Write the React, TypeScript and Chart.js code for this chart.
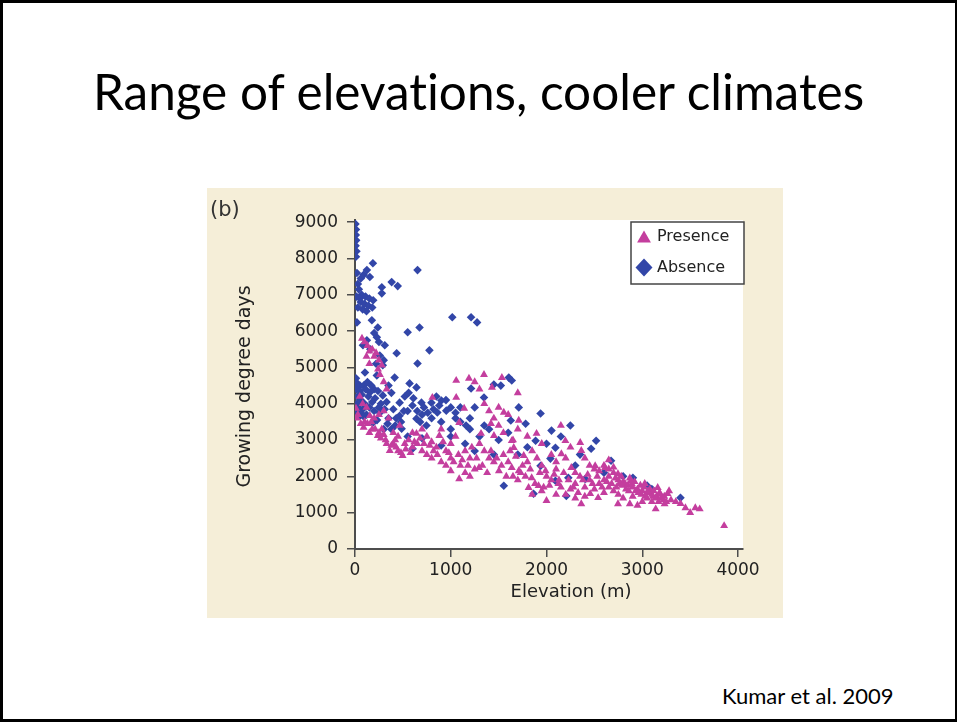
import React, { useEffect, useRef } from "react";
import { Chart, registerables } from "chart.js";

Chart.register(...registerables);

const SLIDE_TITLE = "Range of elevations, cooler climates";
const CITATION = "Kumar et al. 2009";
const PANEL_LABEL = "(b)";
const X_LABEL = "Elevation (m)";
const Y_LABEL = "Growing degree days";
const X_TICKS = [0, 1000, 2000, 3000, 4000];
const Y_TICKS = [0, 1000, 2000, 3000, 4000, 5000, 6000, 7000, 8000, 9000];
const SERIES_NAMES = ["Presence", "Absence"];

// [elevation (m), growing degree days]
const presencePoints: [number, number][] = [
  [73, 5800], [100, 5700], [130, 5600], [180, 5500], [220, 5400], [250, 5200], [280, 5060], [200, 5300],
  [150, 5450], [240, 4950], [260, 4800], [300, 4600], [50, 4200], [80, 4000], [120, 3900], [155, 3670],
  [200, 3600], [238, 3120], [280, 3300], [320, 3000], [363, 2710], [400, 2900], [430, 2800], [497, 2570],
  [466, 3400], [520, 2900], [560, 3000], [600, 3200], [642, 3180], [700, 3300], [750, 3100], [800, 2950],
  [850, 2800], [881, 3120], [900, 3300], [950, 2700], [1000, 2900], [1050, 3100], [1088, 1930], [1088, 3480],
  [1057, 4640], [1057, 4170], [1140, 3870], [808, 4170], [10, 3870], [30, 3700], [100, 3500], [180, 3300],
  [150, 3200], [400, 3200], [450, 3100], [600, 2800], [700, 2700], [800, 2500], [900, 2400], [1000, 2500],
  [1100, 2300], [1150, 2700], [1200, 2500], [1250, 2200], [1300, 2900], [1150, 2100], [1200, 2000], [1000, 2150],
  [950, 2300], [750, 2600], [650, 2900], [350, 3600], [300, 3800], [250, 3700],
  [1534, 4720], [1430, 4450], [1554, 3760], [1420, 3450], [1316, 3180], [1451, 3120], [1710, 3540], [1637, 2980],
  [1896, 3180], [1658, 2790], [2197, 2980], [2352, 2930], [1762, 2570], [2155, 2620], [2363, 2710], [1295, 2240],
  [1503, 2150], [1710, 2150], [1845, 1960], [1990, 2150], [2124, 1800], [2300, 1800], [2508, 2290], [2611, 2240],
  [2746, 2070], [2881, 1880], [3026, 1800], [3161, 1690], [3264, 1520], [3233, 1240], [3140, 1100], [2870, 1240],
  [2746, 1240], [2539, 1410], [2363, 1240], [2000, 1330], [2456, 1520], [3451, 1130], [3554, 1130], [3855, 640],
  [2259, 2240], [1813, 1690], [1917, 1740], [1637, 2240], [1300, 4400], [1250, 4600], [1350, 4000], [1400, 3800],
  [1450, 3600], [1500, 3400], [1550, 3200], [1350, 2700], [1400, 2500], [1450, 2400], [1550, 2600], [1600, 2400],
  [1650, 2000], [1700, 1900], [1750, 2300], [1800, 2400], [1850, 2700], [1900, 2500], [1950, 2300], [2000, 2000],
  [2050, 1900], [2100, 2200], [2150, 1700], [2200, 1500], [2250, 1650], [2300, 2100], [2350, 2000], [2400, 1700],
  [2450, 2300], [2500, 2200], [2550, 2150], [2600, 2300], [2650, 2000], [2700, 2100], [2720, 1950], [2750, 1900],
  [2780, 2000], [2800, 1850], [2820, 1800], [2850, 1750], [2870, 1950], [2900, 1700], [2920, 1850], [2950, 1650],
  [2980, 1750], [3000, 1600], [3020, 1700], [3050, 1550], [3080, 1650], [3100, 1500], [3120, 1600], [3150, 1450],
  [3180, 1550], [3200, 1400], [3220, 1350], [3250, 1300], [3280, 1600], [2650, 1700], [2700, 1600], [2750, 1500],
  [2800, 1400], [2600, 1550], [2550, 1800], [2500, 1650], [2450, 1900], [2650, 2200], [2700, 2250], [2600, 1900],
  [2900, 1450], [3000, 1300], [3050, 1400], [3100, 1300], [2950, 1200], [3350, 1300], [3400, 1250], [3600, 1100],
  [3500, 1000], [2400, 1450], [2300, 1400], [2100, 1500], [1950, 1600], [1850, 1500], [2200, 2500], [2400, 2500],
  [2650, 2450], [2250, 2800], [2050, 2600], [2100, 2400], [1950, 2900], [2150, 3400], [1800, 3100], [1700, 3300],
  [1600, 3700], [1500, 3900], [1700, 4300], [1650, 3000],
  [20, 3600], [60, 3450], [90, 3350], [130, 3450], [170, 3500], [210, 3300], [250, 3200], [270, 3050],
  [300, 3150], [330, 2900], [380, 2850], [420, 3000], [450, 2700], [480, 2650], [530, 2750], [580, 2650],
  [620, 2950], [680, 3050], [720, 2900], [780, 2850], [820, 2700], [860, 2600], [920, 2950], [980, 2650],
  [1030, 2400], [1080, 2600], [1120, 2450], [1180, 2300], [1220, 2800], [1270, 2500], [1330, 2300], [1380, 2100],
  [1420, 2700], [1480, 2500], [1530, 2300], [1580, 2000], [1620, 2700], [1680, 2550], [1730, 2100], [1780, 2000],
  [1830, 2200], [1880, 1800], [1930, 2100], [1970, 1700], [2030, 1750], [2080, 2050], [2130, 1900], [2180, 2100],
  [2230, 1900], [2280, 1700], [2330, 1550], [2380, 1900], [2430, 2050], [2480, 1800], [2530, 2000], [2580, 1700],
  [2630, 1850], [2680, 1800], [2730, 1700], [2760, 1800], [2790, 1750], [2830, 1650], [2860, 1600], [2890, 1800],
  [2930, 1600], [2960, 1550], [2990, 1500], [3030, 1450], [3060, 1600], [3110, 1450], [3140, 1400], [3170, 1300],
  [3190, 1500], [3230, 1450], [3300, 1350], [150, 5100], [120, 5300], [330, 4400], [1190, 4700], [1347, 4800],
];

const absencePoints: [number, number][] = [
  [5, 8950], [10, 8800], [8, 8650], [12, 8500], [6, 8350], [15, 8200], [10, 8050],
  [20, 7600], [187, 7870], [124, 7680], [155, 7490], [280, 7210], [383, 7350], [446, 7240], [653, 7680],
  [280, 7040], [60, 7450], [30, 7300], [90, 7550], [40, 7150], [70, 7000], [110, 6950], [150, 6900],
  [190, 6850], [60, 6800], [100, 6750], [140, 6700], [30, 6650], [180, 6650], [80, 6600], [120, 6550],
  [50, 6900], [15, 6950], [1016, 6380], [1212, 6380], [1275, 6240], [20, 6240], [176, 6300], [238, 6100],
  [674, 6100], [550, 5970], [777, 5470], [435, 5390], [653, 5110], [124, 5750], [228, 5830], [83, 5610],
  [259, 5330], [311, 5610], [200, 5950], [250, 5700], [160, 5500], [300, 5200], [220, 5100],
  [414, 4720], [570, 4560], [642, 4450], [104, 4860], [228, 4780], [290, 5060], [52, 4500], [155, 4310],
  [290, 4230], [1212, 4420], [694, 4030], [798, 4030], [902, 4090], [860, 3760], [953, 3810], [1160, 3400],
  [466, 4030], [466, 3670], [642, 3590], [746, 3400], [487, 3310], [187, 3480], [52, 3670], [10, 4600],
  [15, 4400], [25, 4200], [60, 4100], [100, 4000], [140, 4200], [200, 4400], [350, 4500], [380, 4300],
  [330, 4050], [250, 3900], [200, 3800], [120, 3700], [30, 3900], [10, 3800], [80, 3850], [400, 3850],
  [550, 3800], [600, 3950], [700, 3700], [800, 3600], [900, 3500], [1000, 3300], [1050, 3600], [1100, 3900],
  [850, 4200], [350, 3600], [300, 3300], [420, 3400], [601, 2760], [550, 3100], [700, 3050], [900, 2850],
  [1000, 3100], [1150, 2900], [1250, 2700], [1300, 3100], [1350, 3400], [1400, 3300],
  [1606, 4720], [1637, 4640], [1523, 4500], [1450, 4530], [1347, 4170], [1710, 3900], [1938, 3730], [1627, 3540],
  [1782, 3450], [2052, 3260], [2249, 3400], [2518, 2980], [1886, 2980], [2000, 2900], [2093, 2790], [2466, 2760],
  [2041, 2490], [2674, 2430], [1938, 2290], [2228, 1960], [2404, 1930], [2093, 1880], [1554, 1740], [1865, 1520],
  [3399, 1410], [2207, 1460], [2902, 1960], [1500, 3000], [1700, 2600], [1800, 2800], [2300, 2300], [2800, 2000],
  [3050, 1750], [3100, 1650], [2600, 2100], [1450, 2600], [1600, 3200], [1200, 3600], [2150, 3100], [2350, 2600],
  [10, 4700], [20, 4550], [35, 4450], [50, 4350], [70, 4250], [90, 4500], [110, 4400], [130, 4600],
  [170, 4500], [210, 4150], [240, 4350], [270, 4000], [20, 4000], [40, 3850], [60, 3750], [90, 3650],
  [150, 3900], [180, 4050], [230, 3550], [260, 3750], [310, 3850], [340, 3450], [380, 3300], [430, 3600],
  [480, 3500], [510, 3800], [520, 4200], [560, 4300], [610, 4150], [650, 3800], [680, 3500], [720, 3900],
  [760, 3750], [820, 3850], [880, 3950], [950, 4100], [1000, 3900], [1050, 3750], [1100, 3500], [1200, 3300],
  [1250, 3900],
];

const PINK = "rgb(196, 62, 158)";
const BLUE = "rgb(50, 70, 168)";
const AXIS = "#4d4d4d";
const TEXT = "#222222";
const FIG_FONT = '"DejaVu Sans", Arial, sans-serif';

const plotBackground = {
  id: "plotBackground",
  beforeDraw(chart: any) {
    const { ctx, chartArea } = chart;
    ctx.save();
    ctx.fillStyle = "#ffffff";
    ctx.fillRect(chartArea.left, chartArea.top, chartArea.right - chartArea.left, chartArea.bottom - chartArea.top);
    ctx.restore();
  },
};

const figureText = {
  id: "figureText",
  afterDraw(chart: any) {
    const { ctx, chartArea } = chart;
    ctx.save();
    ctx.fillStyle = TEXT;
    ctx.font = `18px ${FIG_FONT}`;
    ctx.textAlign = "center";
    ctx.textBaseline = "alphabetic";
    ctx.fillText(X_LABEL, chartArea.left + 216, chartArea.bottom + 48);
    ctx.font = `19px ${FIG_FONT}`;
    ctx.translate(43, (chartArea.top + chartArea.bottom) / 2 + 2);
    ctx.rotate(-Math.PI / 2);
    ctx.fillText(Y_LABEL, 0, 0);
    ctx.restore();
    ctx.save();
    ctx.fillStyle = "#333";
    ctx.font = `21px ${FIG_FONT}`;
    ctx.textAlign = "left";
    ctx.textBaseline = "alphabetic";
    ctx.fillText(PANEL_LABEL, 3, 28);
    ctx.restore();
  },
};

const boxLegend = {
  id: "boxLegend",
  afterDatasetsDraw(chart: any) {
    const { ctx, chartArea } = chart;
    const w = 113;
    const h = 62;
    const x0 = chartArea.right + 1 - w;
    const y0 = chartArea.top + 2;
    ctx.save();
    ctx.fillStyle = "#ffffff";
    ctx.fillRect(x0, y0, w, h);
    ctx.strokeStyle = "#444";
    ctx.lineWidth = 1.5;
    ctx.strokeRect(x0, y0, w, h);
    chart.data.datasets.forEach((ds: any, i: number) => {
      const cy = y0 + 15 + i * 30.6;
      const cx = x0 + 13;
      ctx.fillStyle = ds.backgroundColor;
      ctx.beginPath();
      if (ds.pointStyle === "triangle") {
        const r = 8;
        const c = cy + 1.5;
        ctx.moveTo(cx, c - r);
        ctx.lineTo(cx + r * 0.866, c + r * 0.5);
        ctx.lineTo(cx - r * 0.866, c + r * 0.5);
      } else {
        ctx.moveTo(cx - 8.5, cy);
        ctx.lineTo(cx, cy - 9);
        ctx.lineTo(cx + 8.5, cy);
        ctx.lineTo(cx, cy + 9);
      }
      ctx.closePath();
      ctx.fill();
      ctx.fillStyle = "#222";
      ctx.font = `16px ${FIG_FONT}`;
      ctx.textAlign = "left";
      ctx.textBaseline = "middle";
      ctx.fillText(ds.label, x0 + 26, cy);
    });
    ctx.restore();
  },
};

function ScatterFigure() {
  const ref = useRef<HTMLCanvasElement | null>(null);
  useEffect(() => {
    if (!ref.current) return;
    const chart = new Chart(ref.current, {
      type: "scatter",
      data: {
        datasets: [
          {
            label: SERIES_NAMES[0],
            data: presencePoints.map(([x, y]) => ({ x, y })),
            pointStyle: "triangle",
            pointRadius: 4.6,
            backgroundColor: PINK,
            borderColor: PINK,
            borderWidth: 0,
          },
          {
            label: SERIES_NAMES[1],
            data: absencePoints.map(([x, y]) => ({ x, y })),
            pointStyle: "rectRot",
            pointRadius: 4.3,
            backgroundColor: BLUE,
            borderColor: BLUE,
            borderWidth: 0,
          },
        ],
      },
      options: {
        animation: false,
        responsive: false,
        maintainAspectRatio: false,
        events: [],
        layout: { padding: { left: 0, top: 32, right: 40, bottom: 0 } },
        plugins: { legend: { display: false }, tooltip: { enabled: false } },
        scales: {
          x: {
            type: "linear",
            min: 0,
            max: 4052,
            afterBuildTicks: (s: any) => {
              s.ticks = X_TICKS.map((v) => ({ value: v }));
            },
            afterFit: (s: any) => {
              s.height = 69;
            },
            ticks: {
              color: TEXT,
              font: { family: FIG_FONT, size: 17 },
              padding: 3,
              maxRotation: 0,
              autoSkip: false,
              callback: (v: any) => String(v),
            },
            grid: { drawOnChartArea: false, drawTicks: true, tickLength: 8, color: AXIS, lineWidth: 1.5 },
            border: { color: AXIS, width: 2 },
          },
          y: {
            type: "linear",
            min: 0,
            max: 9060,
            afterBuildTicks: (s: any) => {
              s.ticks = Y_TICKS.map((v) => ({ value: v }));
            },
            afterFit: (s: any) => {
              s.width = 148;
            },
            ticks: {
              color: TEXT,
              font: { family: FIG_FONT, size: 17 },
              padding: 9,
              autoSkip: false,
              callback: (v: any) => String(v),
            },
            grid: { drawOnChartArea: false, drawTicks: true, tickLength: 8, color: AXIS, lineWidth: 1.5 },
            border: { color: AXIS, width: 2 },
          },
        },
      },
      plugins: [plotBackground, boxLegend, figureText],
    });
    return () => chart.destroy();
  }, []);
  return <canvas ref={ref} width={576} height={430} style={{ width: 576, height: 430, display: "block" }} />;
}

export default function App() {
  return (
    <div
      style={{
        position: "fixed",
        left: 0,
        top: 0,
        width: 957,
        height: 722,
        boxSizing: "border-box",
        borderTop: "3px solid #000",
        borderLeft: "3px solid #000",
        borderBottom: "3px solid #000",
        borderRight: "2px solid #000",
        background: "#ffffff",
        overflow: "hidden",
      }}
    >
      <div
        style={{
          position: "absolute",
          left: -3,
          top: 64,
          width: 957,
          textAlign: "center",
          fontFamily: "Lato, 'Open Sans', sans-serif",
          fontSize: 49.5,
          lineHeight: "49px",
          color: "#000",
          whiteSpace: "nowrap",
          fontVariantLigatures: "none",
        }}
      >
        {SLIDE_TITLE}
      </div>
      <div
        style={{
          position: "absolute",
          left: 204,
          top: 185,
          width: 576,
          height: 430,
          background: "#f5eed8",
        }}
      >
        <ScatterFigure />
      </div>
      <div
        style={{
          position: "absolute",
          left: 719,
          top: 682,
          fontFamily: "Lato, 'Open Sans', sans-serif",
          fontSize: 22,
          lineHeight: "22px",
          color: "#000",
          whiteSpace: "nowrap",
          fontVariantLigatures: "none",
        }}
      >
        {CITATION}
      </div>
    </div>
  );
}
